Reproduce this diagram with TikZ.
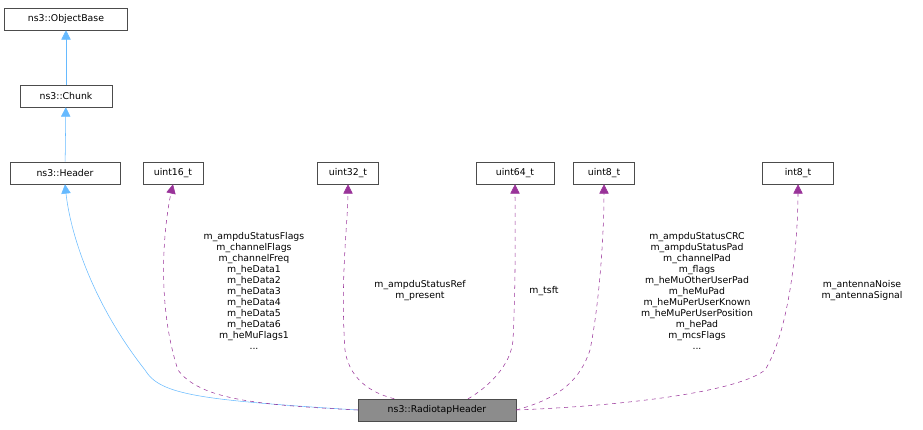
\documentclass[tikz,border=0pt]{standalone}
\usepackage{fontspec}
\setmainfont{DejaVu Sans}
\usetikzlibrary{positioning,arrows.meta}
\begin{document}
\begin{tikzpicture}[x=0.75pt,y=-0.75pt,font=\fontsize{7}{8.3}\selectfont,
  cls/.style={draw=black!70,fill=white,minimum height=16.5pt,inner xsep=3pt,anchor=center},
  inh/.style={draw=blue!45!cyan!60,-{Triangle[open,fill=blue!45!cyan!60,length=7pt,width=7pt]}},
  use/.style={draw=violet!80,dashed,-{Triangle[fill=violet!80,length=7pt,width=7pt]}},
  lbl/.style={align=center,inner sep=1pt}]
\useasboundingbox (0,0) rectangle (923,429);
% classes
\node[cls,minimum width=92.25pt] (objbase) at (66,19) {ns3::ObjectBase};
\node[cls,minimum width=69pt] (chunk) at (66,96) {ns3::Chunk};
\node[cls,minimum width=82.5pt] (header) at (65,173) {ns3::Header};
\node[cls,minimum width=45pt] (u16) at (173,173) {uint16\_t};
\node[cls,minimum width=45.75pt] (u32) at (348,173) {uint32\_t};
\node[cls,minimum width=58.5pt] (u64) at (515,173) {uint64\_t};
\node[cls,minimum width=45.75pt] (u8) at (604,173) {uint8\_t};
\node[cls,minimum width=53.25pt] (i8) at (798,173) {int8\_t};
\node[cls,fill=black!45,minimum width=118.5pt] (radio) at (437,410) {ns3::RadiotapHeader};
% inheritance
\draw[inh] (chunk) -- (objbase);
\draw[inh] (header) -- (chunk);
\draw[inh] (radio.west) .. controls (200,400) and (160,395) .. (145,370)
  .. controls (90,300) and (70,230) .. (header.south);
% members
\draw[use] (radio.west) .. controls (260,405) and (200,400) .. (178,370)
  .. controls (155,300) and (165,220) .. (u16.south);
\draw[use] (radio) .. controls (380,395) and (350,385) .. (345,350)
  .. controls (340,280) and (348,220) .. (u32.south);
\draw[use] (radio) .. controls (470,398) and (510,375) .. (513,340)
  .. controls (516,280) and (515,220) .. (u64.south);
\draw[use] (radio.east) .. controls (560,398) and (580,380) .. (590,350)
  .. controls (600,300) and (604,230) .. (u8.south);
\draw[use] (radio.east) .. controls (640,405) and (740,390) .. (765,370)
  .. controls (790,330) and (798,240) .. (i8.south);
% labels
\node[lbl] (l16) at (254,291) {m\_ampduStatusFlags\\m\_channelFlags\\m\_channelFreq\\m\_heData1\\m\_heData2\\m\_heData3\\m\_heData4\\m\_heData5\\m\_heData6\\m\_heMuFlags1\\...};
\node[lbl] (l32) at (420,291) {m\_ampduStatusRef\\m\_present};
\node[lbl] (l64) at (544,291) {m\_tsft};
\node[lbl] (l8) at (697,291) {m\_ampduStatusCRC\\m\_ampduStatusPad\\m\_channelPad\\m\_flags\\m\_heMuOtherUserPad\\m\_heMuPad\\m\_heMuPerUserKnown\\m\_heMuPerUserPosition\\m\_hePad\\m\_mcsFlags\\...};
\node[lbl] (li8) at (862,291) {m\_antennaNoise\\m\_antennaSignal};
\end{tikzpicture}
\end{document}
